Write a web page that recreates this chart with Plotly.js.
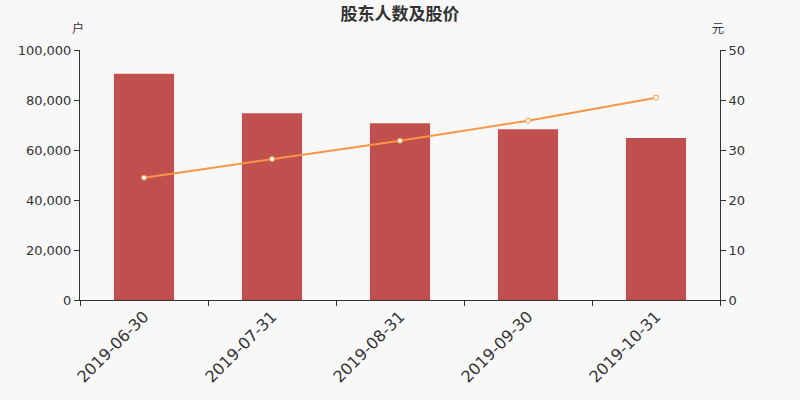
<!DOCTYPE html>
<html><head><meta charset="utf-8">
<script src="https://cdn.plot.ly/plotly-3.0.1.min.js"></script>
<style>body{margin:0;background:#f8f8f8}#c{width:800px;height:400px}</style>
</head><body><div id="c"></div>
<script>
var categories = ["2019-06-30","2019-07-31","2019-08-31","2019-09-30","2019-10-31"];
var holders = [90500, 74700, 70700, 68300, 64800];
var prices = [24.47, 28.2, 31.87, 35.87, 40.47];
var font = "'Noto Sans CJK SC', 'DejaVu Sans', sans-serif";
Plotly.newPlot("c", [
  {type:"bar", x:categories, y:holders, width:0.47, marker:{color:"#c0504d"}, name:"股东人数", hoverinfo:"x+y"},
  {type:"scatter", mode:"lines+markers", x:categories, y:prices, yaxis:"y2",
   line:{color:"#f79646", width:2}, marker:{symbol:"circle", size:5, color:"#ffffff", line:{color:"#f79646", width:1}}, name:"股价"}
], {
  width:800, height:400,
  paper_bgcolor:"#f8f8f8", plot_bgcolor:"#f8f8f8",
  margin:{l:80, r:80, t:50, b:100},
  showlegend:false,
  font:{family:font, color:"#333", size:12},
  title:{text:"<b>股东人数及股价</b>", x:0.5, xanchor:"center", y:0.965, yanchor:"middle", font:{size:17, color:"#333", family:font}},
  xaxis:{type:"category", tickson:"boundaries", ticks:"outside", ticklen:5, tickcolor:"#333",
    showline:true, linecolor:"#333", linewidth:1, showgrid:false, tickangle:-45,
    tickfont:{size:16, color:"#333", family:"'DejaVu Sans', sans-serif"}},
  yaxis:{range:[0,100000], dtick:20000, tickformat:",d", ticks:"outside", ticklen:5, tickcolor:"#333",
    showline:true, linecolor:"#333", showgrid:false, zeroline:false,
    tickfont:{size:13, color:"#333", family:"'DejaVu Sans', sans-serif"}},
  yaxis2:{range:[0,50], dtick:10, overlaying:"y", side:"right", ticks:"outside", ticklen:5, tickcolor:"#333",
    showline:true, linecolor:"#333", showgrid:false, zeroline:false,
    tickfont:{size:13, color:"#333", family:"'DejaVu Sans', sans-serif"}},
  annotations:[
    {text:"户", xref:"paper", yref:"paper", x:-0.003, y:1.09, xanchor:"center", yanchor:"middle", showarrow:false, font:{size:12, color:"#333"}},
    {text:"元", xref:"paper", yref:"paper", x:0.997, y:1.09, xanchor:"center", yanchor:"middle", showarrow:false, font:{size:12, color:"#333"}}
  ]
}, {displayModeBar:false});
</script></body></html>
